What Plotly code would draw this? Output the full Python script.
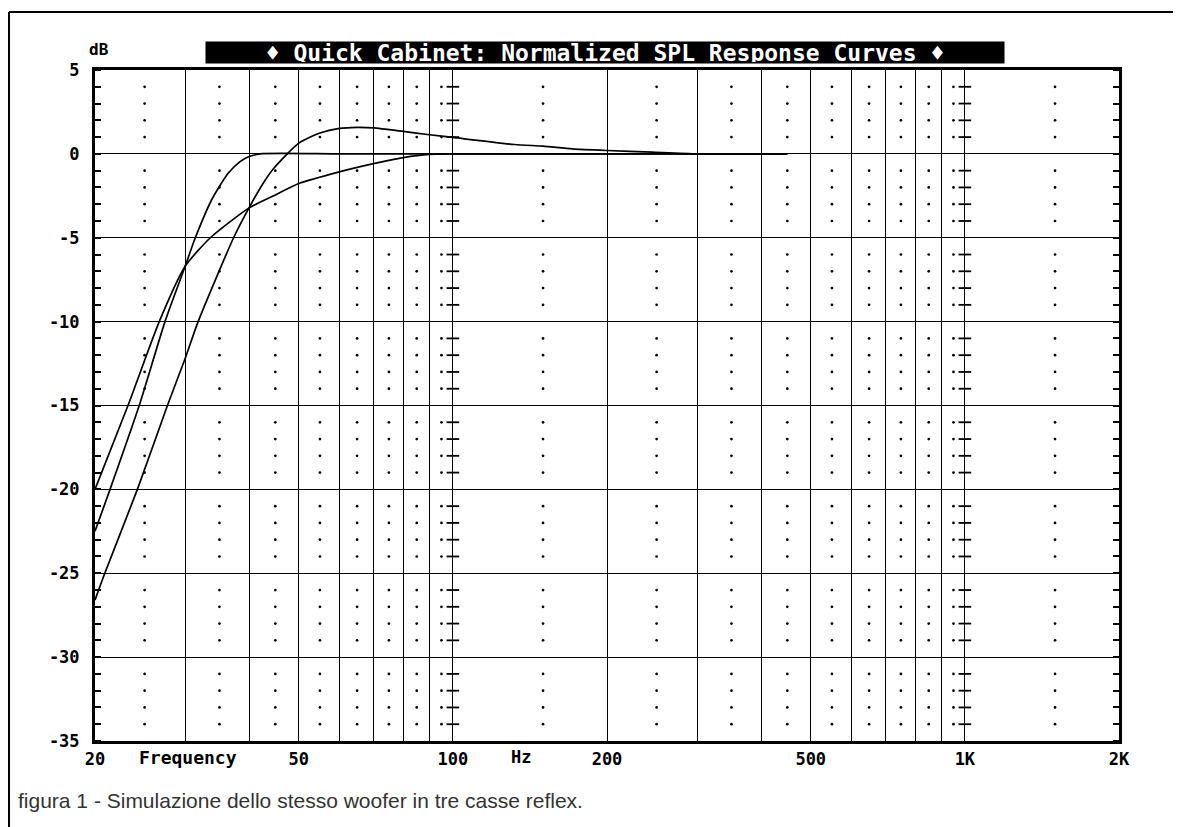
import math
import plotly.graph_objects as go

# ---------------- data ----------------
freq_a = [20, 21.4, 24.4, 27.4, 30, 31.4, 33.9, 36.4, 38.4, 40, 42, 60, 100, 200, 450]
spl_a = [-22.5, -20, -15, -10, -6.7, -5, -2.66, -1.16, -0.46, -0.16, 0, 0, 0, 0, 0]

freq_b = [20, 20.9, 24.2, 27.7, 30, 31.8, 37.3, 40, 42.8, 44.7, 50, 55, 60, 65, 70, 80, 90, 100,
          132, 150, 171, 200, 245, 300, 450]
spl_b = [-26.6, -25, -20, -15, -12.2, -10, -5, -3.2, -1.66, -0.86, 0.64, 1.24, 1.52, 1.58, 1.55,
         1.34, 1.14, 0.98, 0.56, 0.46, 0.3, 0.2, 0.1, 0, 0]

freq_c = [20, 23.2, 26.7, 30, 33.6, 40, 45, 50, 60, 70, 80, 90, 100, 200, 450]
spl_c = [-20, -15, -10, -6.7, -5, -3.22, -2.45, -1.77, -1.07, -0.58, -0.22, -0.03, 0, 0, 0]

grid_freqs = [20, 30, 40, 50, 60, 70, 80, 90, 100, 200, 300, 400, 500, 600, 700, 800, 900, 1000, 2000]
tick_labels = {20: "20", 50: "50", 100: "100", 200: "200", 500: "500", 1000: "1K", 2000: "2K"}
dot_freqs = [25, 35, 45, 55, 65, 75, 85, 95, 150, 250, 350, 450, 550, 650, 750, 850, 950, 1500]
db_ticks = [5, 0, -5, -10, -15, -20, -25, -30, -35]
minor_db = [d for d in range(-34, 5) if d % 5 != 0]
decade_freqs = [100, 1000]

title_text = "\u2666 Quick Cabinet: Normalized SPL Response Curves \u2666"
caption_text = "figura 1 - Simulazione dello stesso woofer in tre casse reflex."

# ---------------- layout geometry ----------------
# page is rendered with an 8px body margin: positions below are page pixels
OFF = 8
W, H = 1181, 827
L, R, T, B = 95 - OFF, 1119 - OFF, 70 - OFF, 741 - OFF
PW, PH = R - L, B - T


def px(x_page):
    return (x_page - OFF - L) / PW


def py(y_page):
    return (B - (y_page - OFF)) / PH


MONO = "DejaVu Sans Mono"

fig = go.Figure()

# dotted minor grid
dx, dy = [], []
for f in dot_freqs:
    for d in minor_db:
        dx.append(f)
        dy.append(d)
fig.add_trace(go.Scatter(x=dx, y=dy, mode="markers",
                         marker=dict(size=2.7, color="black"),
                         hoverinfo="skip", showlegend=False))

# tick dashes on 100 Hz and 1 kHz lines
tx, ty = [], []
for f in decade_freqs:
    for d in minor_db:
        tx.append(f)
        ty.append(d)
fig.add_trace(go.Scatter(x=tx, y=ty, mode="markers",
                         marker=dict(symbol="line-ew", size=9,
                                     line=dict(width=1.8, color="black")),
                         hoverinfo="skip", showlegend=False))

# response curves
for fx, sy in [(freq_a, spl_a), (freq_b, spl_b), (freq_c, spl_c)]:
    fig.add_trace(go.Scatter(x=fx, y=sy, mode="lines",
                             line=dict(color="black", width=1.7, shape="spline", smoothing=0.6),
                             hoverinfo="skip", showlegend=False))

fig.update_xaxes(type="log", range=[math.log10(20), math.log10(2000)],
                 tickvals=grid_freqs,
                 ticktext=[tick_labels.get(f, "") for f in grid_freqs],
                 showgrid=True, gridcolor="black", gridwidth=1.4,
                 showline=True, linecolor="black", linewidth=3, mirror=True,
                 ticks="", ticklabelstandoff=1,
                 tickfont=dict(family=MONO, size=17, color="black", weight="bold"),
                 zeroline=False, fixedrange=True)

fig.update_yaxes(range=[-35, 5], tickvals=db_ticks,
                 ticktext=[str(v) for v in db_ticks],
                 showgrid=True, gridcolor="black", gridwidth=1.4,
                 showline=True, linecolor="black", linewidth=3, mirror="allticks",
                 ticks="", ticklabelstandoff=9,
                 minor=dict(dtick=1, ticks="inside", ticklen=6, tickwidth=1.5,
                            tickcolor="black", showgrid=False),
                 tickfont=dict(family=MONO, size=17, color="black", weight="bold"),
                 zeroline=False, fixedrange=True)

annotations = [
    dict(text=title_text, xref="paper", yref="paper", x=px(605), y=py(52),
         xanchor="center", yanchor="middle", showarrow=False,
         width=796, height=19, bgcolor="black",
         font=dict(family=MONO, size=23, color="white", weight="bold")),
    dict(text="dB", xref="paper", yref="paper", x=px(99), y=py(49),
         xanchor="center", yanchor="middle", showarrow=False,
         font=dict(family=MONO, size=16, color="black", weight="bold")),
    dict(text="Frequency", xref="paper", yref="paper", x=px(188), y=py(757),
         xanchor="center", yanchor="middle", showarrow=False,
         font=dict(family=MONO, size=18, color="black", weight="bold")),
    dict(text="Hz", xref="paper", yref="paper", x=px(521), y=py(757),
         xanchor="center", yanchor="middle", showarrow=False,
         font=dict(family=MONO, size=17, color="black", weight="bold")),
    dict(text=caption_text, xref="paper", yref="paper", x=px(16), y=py(800),
         xanchor="left", yanchor="middle", showarrow=False,
         font=dict(family="Liberation Sans", size=21, color="#333333")),
]

shapes = [
    dict(type="line", xref="paper", yref="paper", x0=px(9), x1=px(9), y0=py(850), y1=py(12),
         line=dict(color="black", width=2)),
    dict(type="line", xref="paper", yref="paper", x0=px(9), x1=px(1200), y0=py(12), y1=py(12),
         line=dict(color="black", width=2)),
]

fig.update_layout(width=W, height=H, autosize=False,
                  margin=dict(l=L, r=W - R, t=T, b=H - B),
                  paper_bgcolor="white", plot_bgcolor="white",
                  annotations=annotations, shapes=shapes, showlegend=False)

fig.write_html("out.html")
